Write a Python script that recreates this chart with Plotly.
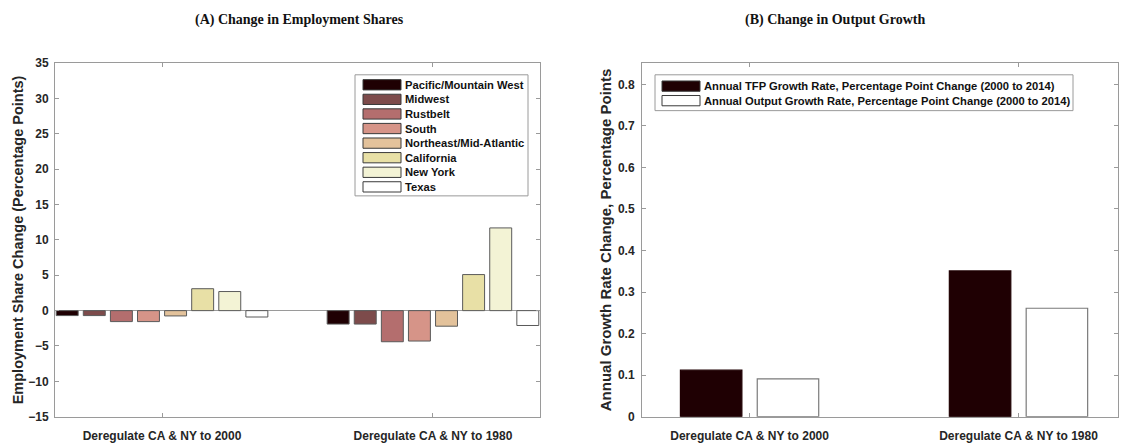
import plotly.graph_objects as go

W, H = 1124, 445

# ---------------- data ----------------
categories = ["Deregulate CA & NY to 2000", "Deregulate CA & NY to 1980"]
regions = ["Pacific/Mountain West", "Midwest", "Rustbelt", "South",
           "Northeast/Mid-Atlantic", "California", "New York", "Texas"]
share_2000 = [-0.7, -0.7, -1.55, -1.55, -0.75, 3.1, 2.7, -0.9]
share_1980 = [-1.9, -1.9, -4.4, -4.3, -2.2, 5.1, 11.7, -2.1]
region_colors = ["#1f0003", "#7d4b4b", "#b46e6e", "#d69488",
                 "#e3c29b", "#e8e0a6", "#f3f3d5", "#ffffff"]

growth_series = ["Annual TFP Growth Rate, Percentage Point Change (2000 to 2014)",
                 "Annual Output Growth Rate, Percentage Point Change (2000 to 2014)"]
tfp_growth = [0.112, 0.351]
output_growth = [0.091, 0.261]
growth_colors = ["#1f0003", "#ffffff"]

yticks_a = [-15, -10, -5, 0, 5, 10, 15, 20, 25, 30, 35]
yticks_b = [0, 0.1, 0.2, 0.3, 0.4, 0.5, 0.6, 0.7, 0.8]
yticklabels_b = ["0", "0.1", "0.2", "0.3", "0.4", "0.5", "0.6", "0.7", "0.8"]

# ---------------- helpers ----------------
def px(x):
    return x / W

def py(y):
    return 1 - y / H

TXT = "#262626"
AX = "#9a9a9a"
SANS = "Liberation Sans, Arial, sans-serif"
SERIF = "Liberation Serif, Times New Roman, serif"

fig = go.Figure()

xpos = [1, 2]
for name, col, a, b in zip(regions, region_colors, share_2000, share_1980):
    fig.add_trace(go.Bar(
        x=xpos, y=[a, b], name=name, marker_color=col,
        marker_line=dict(color="#5a5a5a", width=1),
        xaxis="x", yaxis="y", showlegend=False, offsetgroup=name))

for name, col, vals in zip(growth_series, growth_colors, [tfp_growth, output_growth]):
    fig.add_trace(go.Bar(
        x=xpos, y=vals, name=name, marker_color=col,
        marker_line=dict(color="#1f0003" if col != "#ffffff" else "#7a7a7a", width=1.2),
        xaxis="x2", yaxis="y2", showlegend=False, offsetgroup=name))

tick_font = dict(family=SANS, size=12, color=TXT, weight="bold")
axis_common = dict(showline=True, linecolor=AX, linewidth=1, mirror="ticks",
                   ticks="inside", tickcolor=AX, ticklen=4, showgrid=False,
                   tickfont=tick_font)

fig.update_layout(
    width=W, height=H, autosize=False,
    margin=dict(l=0, r=0, t=0, b=0),
    paper_bgcolor="white", plot_bgcolor="white",
    barmode="group", bargap=0.2, bargroupgap=0.19,
    xaxis=dict(domain=[px(55), px(540)], range=[0.605, 2.395],
               tickvals=xpos, ticktext=categories, zeroline=False,
               ticklabelstandoff=8, **axis_common),
    yaxis=dict(domain=[py(423), py(58)], range=[-15, 35], tickvals=yticks_a,
               zeroline=True, zerolinecolor="#9a9a9a", zerolinewidth=1,
               ticklabelstandoff=3,
               title=dict(text="Employment Share Change (Percentage Points)",
                          font=dict(family=SANS, size=14.5, color=TXT, weight="bold"),
                          standoff=1),
               **axis_common),
    xaxis2=dict(domain=[px(642), px(1118)], range=[0.6, 2.37],
                tickvals=xpos, ticktext=categories, zeroline=False,
                ticklabelstandoff=8, anchor="y2", **axis_common),
    yaxis2=dict(domain=[py(423), py(58)], range=[0, 0.851], tickvals=yticks_b,
                ticktext=yticklabels_b, anchor="x2", zeroline=False,
                ticklabelstandoff=4,
                title=dict(text="Annual Growth Rate Change, Percentage Points",
                           font=dict(family=SANS, size=15, color=TXT, weight="bold"),
                           standoff=2),
                **axis_common),
)

# B panel: two series per group (MATLAB group width 2/3.5, bar 0.8 of slot)
gw = 2 / 3.5
wb = gw / 2 * 0.8
for i, tr in enumerate(fig.data[len(regions):]):
    tr.width = wb
    tr.offset = -gw / 2 + i * gw / 2 + (gw / 2 - wb) / 2

# ---------------- titles ----------------
for txt, xc in [("(A) Change in Employment Shares", 300), ("(B) Change in Output Growth", 835)]:
    fig.add_annotation(text="<b>" + txt + "</b>", x=px(xc), y=py(13),
                       xref="paper", yref="paper", showarrow=False,
                       xanchor="center", yanchor="middle",
                       font=dict(family=SERIF, size=14, color="#111"))

# ---------------- legends (manual, MATLAB style) ----------------
def legend_box(x0, y0, x1, y1, names, colors, sw_x0, first_cy, step):
    fig.add_shape(type="rect", xref="paper", yref="paper",
                  x0=px(x0), x1=px(x1), y0=py(y1), y1=py(y0),
                  line=dict(color=AX, width=1), fillcolor="white", layer="above")
    for k, (nm, c) in enumerate(zip(names, colors)):
        cy = first_cy + k * step
        fig.add_shape(type="rect", xref="paper", yref="paper",
                      x0=px(sw_x0), x1=px(sw_x0 + 38), y0=py(cy + 5.3), y1=py(cy - 5.3),
                      line=dict(color="#3a3a3a", width=1), fillcolor=c, layer="above")
        fig.add_annotation(text="<b>" + nm + "</b>", x=px(sw_x0 + 40), y=py(cy),
                           xref="paper", yref="paper", showarrow=False,
                           xanchor="left", yanchor="middle",
                           font=dict(family=SANS, size=11.2, color="#111"))

legend_box(355, 70, 528, 195, regions, region_colors, 363, 80.3, 15.06)
legend_box(655, 70, 1073, 107, growth_series, growth_colors, 662, 81.7, 15.0)

fig.write_html("out.html")
